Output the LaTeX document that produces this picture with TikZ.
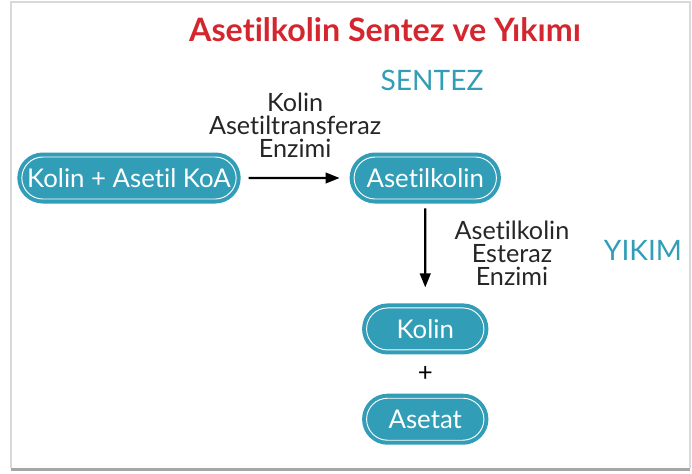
\documentclass[tikz,border=0pt]{standalone}
\usepackage{fontspec}
\setmainfont{Lato}[Ligatures={NoCommon,NoRare}]
\usetikzlibrary{arrows.meta,positioning,shapes.misc,calc}
\definecolor{tealbox}{RGB}{50,157,182}
\definecolor{titlered}{RGB}{212,38,46}

\begin{document}
\begin{tikzpicture}[node distance=3.3cm,>={Triangle[length=12pt,width=9pt]},
  every node/.style={font=\fontsize{22}{24}\selectfont},
  pill/.style={rounded rectangle,draw=white,line width=0.8pt,fill=tealbox,
    preaction={draw=tealbox,line width=0.27cm},text=white,minimum height=1.26cm,inner sep=2pt},
  enz/.style={align=center,text=black!85,font=\fontsize{21.5}{19.8}\selectfont},
  phase/.style={text=tealbox,font=\fontsize{24}{26}\selectfont}]
\useasboundingbox (0,0) rectangle (20.76,-14.19);
% frame
\draw[black!15,line width=1.2pt] (0.33,-14.05) -- (0.33,-0.06) -- (20.7,-0.06) -- (20.7,-14.05);
\draw[black!35,line width=2pt] (0.33,-14.08) -- (20.7,-14.08);
\node[text=titlered,font=\bfseries\fontsize{27.5}{30}\selectfont] (title) at (11.55,-0.9) {Asetilkolin Sentez ve Yıkımı};
\node[pill,minimum width=6.57cm] (kak) at (3.87,-5.34) {Kolin + Asetil KoA};
\node[pill,minimum width=4.41cm,right=3.51cm of kak] (ak) {Asetilkolin};
\node[pill,minimum width=3.66cm,below=3.24cm of ak] (kolin) {Kolin};
\node[pill,minimum width=3.66cm,below=1.42cm of kolin] (asetat) {Asetat};
\node at ($(kolin)!0.5!(asetat)$) (plus) {+};
\node[phase] (sentez) at (12.96,-2.4) {SENTEZ};
\node[phase] (yikim) at (19.29,-7.5) {YIKIM};
\draw[->,line width=2pt,shorten <=0.36cm,shorten >=0.42cm] (kak) -- node[enz,above=0.45cm]{Kolin\\Asetiltransferaz\\Enzimi} (ak);
\draw[->,line width=2pt,shorten <=0.27cm,shorten >=0.6cm] (ak) -- node[enz,right=0.73cm]{Asetilkolin\\Esteraz\\Enzimi} (kolin);
\end{tikzpicture}
\end{document}
